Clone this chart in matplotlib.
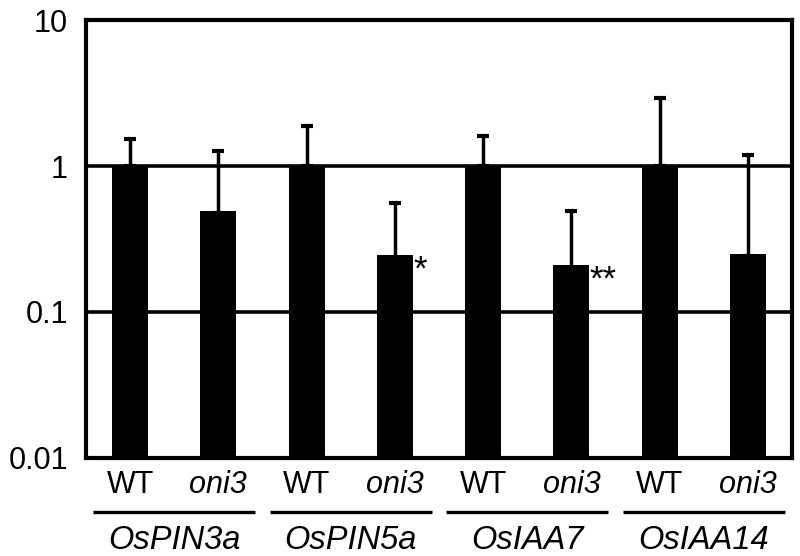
import numpy as np
import matplotlib
matplotlib.use('Agg')
import matplotlib.pyplot as plt
import matplotlib.transforms as mtransforms

# relative expression
genes = ['OsPIN3a', 'OsPIN5a', 'OsIAA7', 'OsIAA14']
genotypes = ['WT', 'oni3']
wt_mean = [1.0, 1.0, 1.0, 1.0]
wt_upper = [1.53, 1.88, 1.6, 2.9]
oni3_mean = [0.48, 0.235, 0.2, 0.24]
oni3_upper = [1.27, 0.56, 0.49, 1.19]
signif = ['', '*', '**', '']
yticks = [0.01, 0.1, 1, 10]
ytick_labels = ['0.01', '0.1', '1', '10']

plt.rcParams['font.family'] = ['Liberation Sans', 'DejaVu Sans']

fig = plt.figure(figsize=(8, 5.56), dpi=100)
ax = fig.add_axes([0.1075, 0.1763, 0.8825, 0.7877])

means = []
uppers = []
for w, wu, o, ou in zip(wt_mean, wt_upper, oni3_mean, oni3_upper):
    means += [w, o]
    uppers += [wu, ou]
means = np.array(means)
uppers = np.array(uppers)
x = np.arange(len(means))

ax.set_yscale('log')
ax.set_ylim(0.01, 10)
ax.set_xlim(-0.5, len(means) - 0.5)

for g in [0.1, 1]:
    ax.axhline(g, color='black', lw=2.6, zorder=1)

ax.bar(x, means, width=0.41, bottom=0.01, color='black', zorder=2)
ax.errorbar(x, means, yerr=[np.zeros_like(means), uppers - means], fmt='none',
            ecolor='black', elinewidth=2.5, capsize=4.5, capthick=3, zorder=3)

for i, s in enumerate(signif):
    if s:
        xi = 2 * i + 1
        ax.annotate(s, (xi + 0.21, oni3_mean[i]), xytext=(0, -9),
                    textcoords='offset points', fontsize=25,
                    ha='left', va='center')

for sp in ax.spines.values():
    sp.set_linewidth(3)

ax.set_yticks(yticks)
ax.set_yticklabels(ytick_labels)
ax.yaxis.set_minor_locator(matplotlib.ticker.NullLocator())
ax.tick_params(axis='y', length=0, labelsize=22, pad=13)
ax.set_xticks([])

trans = mtransforms.blended_transform_factory(ax.transData, ax.transAxes)
for i, gene in enumerate(genes):
    for j, gt in enumerate(genotypes):
        ax.text(2 * i + j, -0.062, gt, transform=trans, ha='center', va='center',
                fontsize=22, style='italic' if gt == 'oni3' else 'normal',
                clip_on=False)
    c = 2 * i + 0.5
    ax.plot([c - 0.92, c + 0.92], [-0.124, -0.124], transform=trans,
            color='black', lw=2.4, clip_on=False, solid_capstyle='butt')
    ax.text(c, -0.188, gene, transform=trans, ha='center', va='center',
            fontsize=23.5, style='italic', clip_on=False)

fig.savefig('out.png', dpi=100)
